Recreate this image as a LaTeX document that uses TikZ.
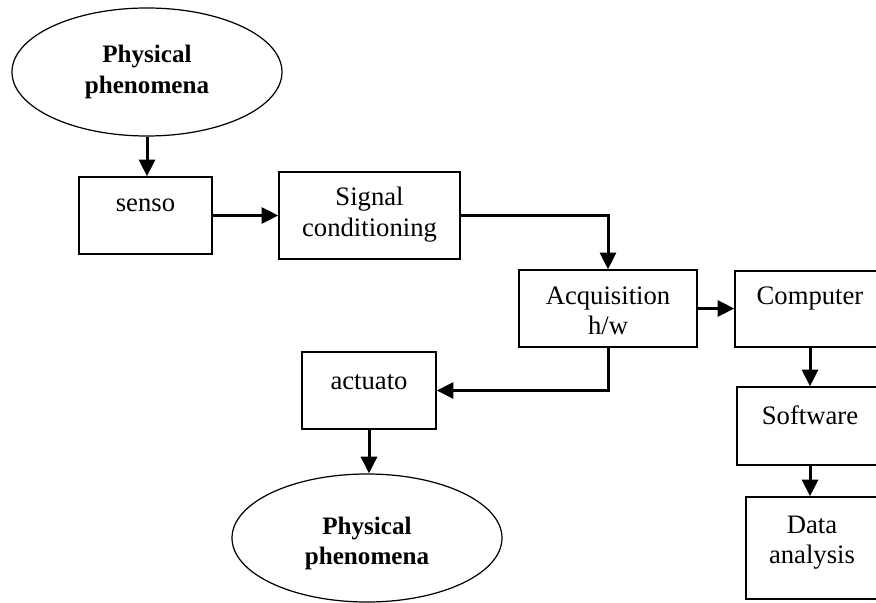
\documentclass[tikz,border=0pt]{standalone}
\usepackage{fontspec}
\setmainfont{Liberation Serif}
\usetikzlibrary{shapes.geometric,arrows.meta}
\begin{document}
\begin{tikzpicture}[x=0.45pt,y=-0.45pt,
  box/.style={draw,line width=0.65pt,rectangle,inner sep=0pt},
  oval/.style={draw,line width=0.55pt,ellipse,inner sep=0pt,minimum width=121.5pt,minimum height=57.6pt},
  txt/.style={anchor=base,inner sep=0pt,font=\fontsize{12}{14}\selectfont},
  btxt/.style={anchor=base,inner sep=0pt,font=\fontsize{11.3}{14}\selectfont\bfseries},
  conn/.style={line width=1.35pt,-{Triangle[length=7.5pt,width=7.2pt]}}]
\useasboundingbox (0,0) rectangle (876,603);
\clip (0,0) rectangle (876,603);
% ellipses
\node[oval] (e1) at (147,72) {};
\node[btxt] (e1a) at (147,63) {Physical};
\node[btxt] (e1b) at (147,94) {phenomena};
\node[oval] (e2) at (367,538) {};
\node[btxt] (e2a) at (367,534) {Physical};
\node[btxt] (e2b) at (367,564) {phenomena};
% boxes
\node[box,minimum width=59.85pt,minimum height=34.65pt] (senso) at (145.5,215.5) {};
\node[txt] (sensot) at (145.5,212) {senso};
\node[box,minimum width=81.45pt,minimum height=39.15pt] (sig) at (369.5,215.5) {};
\node[txt] (siga) at (369.5,206) {Signal};
\node[txt] (sigb) at (369.5,237) {conditioning};
\node[box,minimum width=80.1pt,minimum height=34.65pt] (acq) at (608,308.5) {};
\node[txt] (acqa) at (608,305) {Acquisition};
\node[txt] (acqb) at (608,335) {h/w};
\node[box,minimum width=60.3pt,minimum height=34.65pt] (act) at (369,390.5) {};
\node[txt] (actt) at (369,389) {actuato};
\node[box,minimum width=67.5pt,minimum height=34.2pt] (comp) at (810,309) {};
\node[txt] (compt) at (810,305) {Computer};
\node[box,minimum width=65.7pt,minimum height=35.1pt] (soft) at (810,426) {};
\node[txt] (softt) at (810,424) {Software};
\node[box,minimum width=59.4pt,minimum height=45.9pt] (data) at (812,548) {};
\node[txt] (dataa) at (812,533) {Data};
\node[txt] (datab) at (812,563) {analysis};
% connectors
\draw[conn] (e1.south) -- (e1.south |- senso.north);
\draw[conn] (senso.east) -- (senso.east -| sig.west);
\draw[conn] (sig.east) -| (acq.north);
\draw[conn] (acq.south) |- (act.east);
\draw[conn] (act.south) -- (act.south |- e2.north);
\draw[conn] (acq.east) -- (acq.east -| comp.west);
\draw[conn] (comp.south) -- (comp.south |- soft.north);
\draw[conn] (soft.south) -- (soft.south |- data.north);
\end{tikzpicture}
\end{document}
